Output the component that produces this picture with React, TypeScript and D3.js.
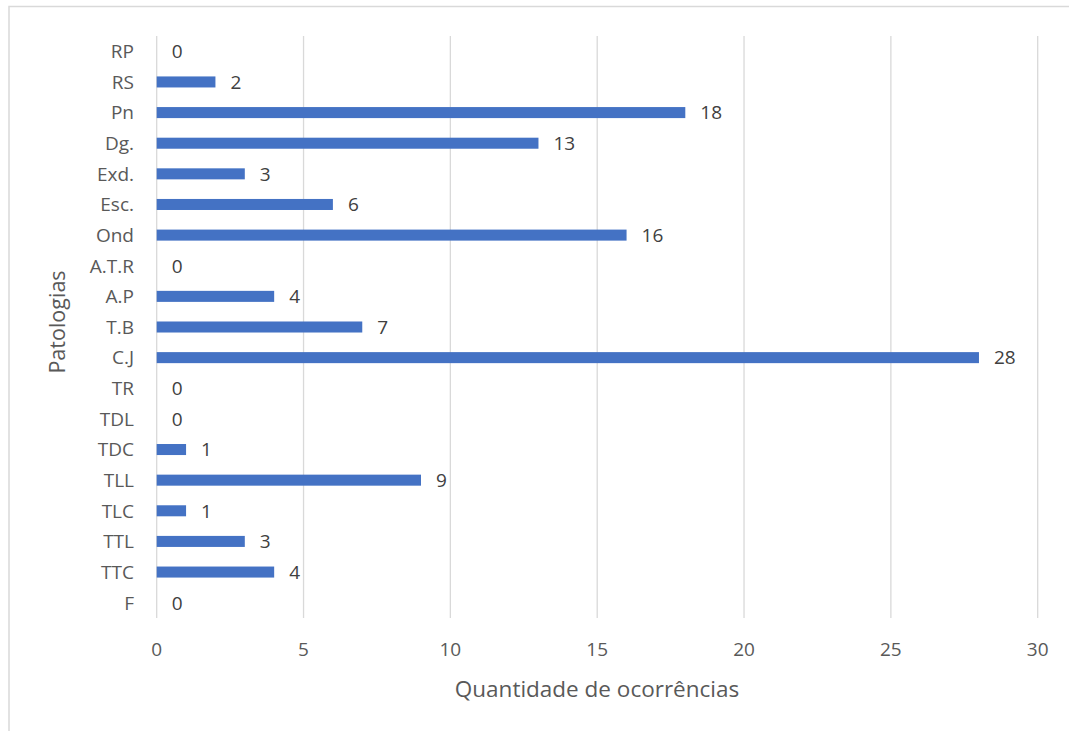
import React from "react";
import * as d3 from "d3";

const categories = ["RP", "RS", "Pn", "Dg.", "Exd.", "Esc.", "Ond", "A.T.R", "A.P", "T.B", "C.J", "TR", "TDL", "TDC", "TLL", "TLC", "TTL", "TTC", "F"];
const values = [0, 2, 18, 13, 3, 6, 16, 0, 4, 7, 28, 0, 0, 1, 9, 1, 3, 4, 0];
const xTicks = [0, 5, 10, 15, 20, 25, 30];
const xTitle = "Quantidade de ocorrências";
const yTitle = "Patologias";

export default function App() {
  const W = 1069, H = 731;
  const left = 156.7, right = 1037.7, top = 36, bottom = 618;
  const x = d3.scaleLinear().domain([0, 30]).range([left, right]);
  const y = d3.scaleBand().domain(categories).range([top, bottom]).paddingInner(0.64).paddingOuter(0.32);
  const font = "'Open Sans', 'Noto Sans', sans-serif";
  const axisCol = "#595959";
  const lblCol = "#404040";
  return (
    <svg width={W} height={H} style={{ position: "absolute", left: 0, top: 0 }}>
      <rect x={0} y={0} width={W} height={H} fill="#fff" />
      <rect x={9} y={6.5} width={W + 10} height={H + 10} fill="none" stroke="#d9d9d9" strokeWidth={1.5} />
      {xTicks.map((t) => (
        <line key={t} x1={x(t)} x2={x(t)} y1={top} y2={bottom} stroke="#d9d9d9" strokeWidth={1.3} />
      ))}
      {categories.map((c, i) => (
        <g key={c}>
          <rect x={x(0)} y={y(c)!} width={x(values[i]) - x(0)} height={y.bandwidth()} fill="#4472C4" />
          <text x={x(values[i]) + 15} y={y(c)! + y.bandwidth() / 2} dy="0.36em" fontFamily={font} fontSize={19} fill={lblCol}>
            {values[i]}
          </text>
          <text x={134} y={y(c)! + y.bandwidth() / 2} dy="0.36em" textAnchor="end" fontFamily={font} fontSize={19} fill={axisCol}>
            {c}
          </text>
        </g>
      ))}
      {xTicks.map((t) => (
        <text key={"l" + t} x={x(t)} y={649} dy="0.36em" textAnchor="middle" fontFamily={font} fontSize={19} fill={axisCol}>
          {t}
        </text>
      ))}
      <text x={597} y={689} dy="0.36em" textAnchor="middle" fontFamily={font} fontSize={22.5} fill={axisCol}>
        {xTitle}
      </text>
      <text transform={`translate(57,${322}) rotate(-90)`} dy="0.36em" textAnchor="middle" fontFamily={font} fontSize={21.5} fill={axisCol}>
        {yTitle}
      </text>
    </svg>
  );
}
